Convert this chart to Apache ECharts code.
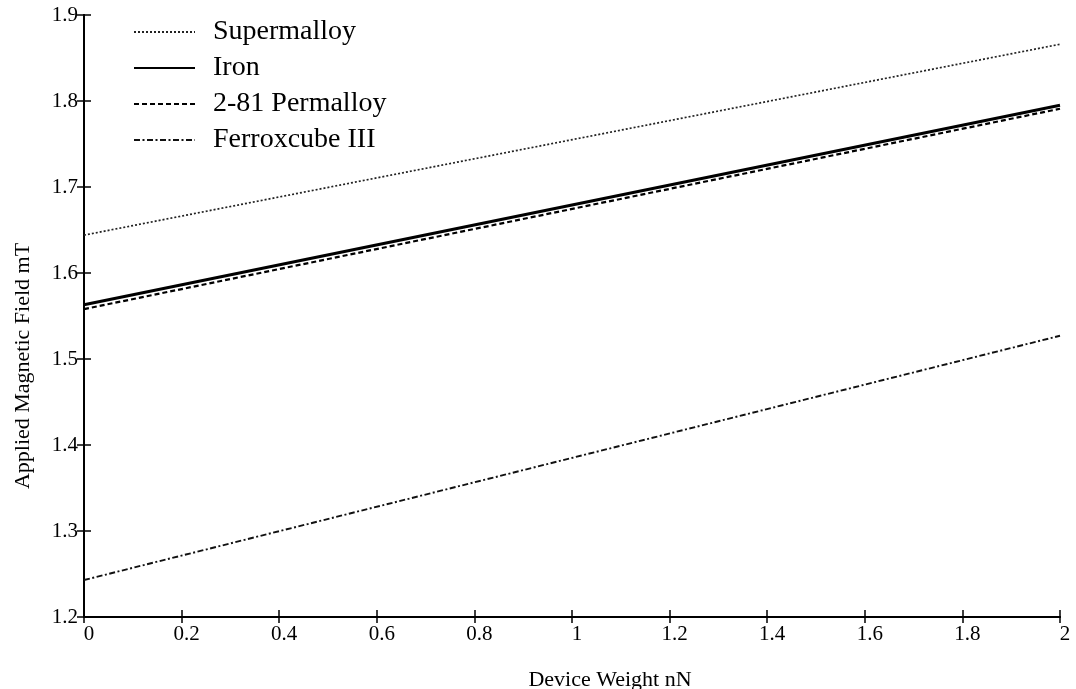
<!DOCTYPE html>
<html>
<head>
<meta charset="utf-8">
<script src="https://cdn.jsdelivr.net/npm/echarts@6/dist/echarts.min.js"></script>
<style>html,body{margin:0;padding:0;background:#fff}#c{width:1076px;height:689px}</style>
</head>
<body>
<div id="c"></div>
<script>
var weights = [0, 2];
var seriesNames = ['Supermalloy', 'Iron', '2-81 Permalloy', 'Ferroxcube III'];
var supermalloy = [1.644, 1.866];
var iron = [1.563, 1.795];
var permalloy = [1.558, 1.791];
var ferroxcube = [1.243, 1.527];
var xTitle = 'Device Weight nN';
var yTitle = 'Applied Magnetic Field mT';

var FONT = '"Liberation Serif", "Times New Roman", serif';
var chart = echarts.init(document.getElementById('c'), null, {renderer: 'canvas'});

function pts(vals) { return weights.map(function (w, i) { return [w, vals[i]]; }); }

var styles = [
  {width: 1.7, type: [2, 2], color: '#222'},
  {width: 3, type: 'solid', color: '#000'},
  {width: 2.2, type: [5, 3], color: '#000'},
  {width: 1.9, type: [6, 2.5, 2, 2.5], color: '#111'}
];
var allVals = [supermalloy, iron, permalloy, ferroxcube];

var series = seriesNames.map(function (n, i) {
  return {
    name: n, type: 'line', data: pts(allVals[i]), symbol: 'none',
    xAxisIndex: 0, yAxisIndex: 0,
    lineStyle: styles[i], itemStyle: {color: styles[i].color},
    emphasis: {disabled: true}, animation: false
  };
});

var axisCommon = {
  axisLine: {show: true, lineStyle: {color: '#000', width: 2}},
  splitLine: {show: false}
};

chart.setOption({
  backgroundColor: '#fff',
  animation: false,
  grid: {left: 84, right: 16, top: 15, bottom: 72, containLabel: false, outerBoundsMode: 'none'},
  legend: {
    show: true, orient: 'vertical', left: 128, top: 13,
    itemWidth: 61, itemHeight: 14, itemGap: 8,
    itemStyle: {opacity: 0},
    textStyle: {fontFamily: FONT, fontSize: 28, lineHeight: 25, color: '#000', padding: [0, 0, 0, 13]},
    data: seriesNames
  },
  xAxis: [
    Object.assign({
      type: 'value', min: 0, max: 2, interval: 0.2,
      name: xTitle, nameLocation: 'middle', nameGap: 52,
      nameTextStyle: {fontFamily: FONT, fontSize: 22, color: '#000', padding: [0, 0, 0, 76]},
      axisTick: {show: true, inside: false, length: 6, lineStyle: {color: '#000', width: 1.5}},
      axisLabel: {fontFamily: FONT, fontSize: 21, color: '#000', margin: 7, padding: [0, 0, 0, 10]}
    }, axisCommon),
    Object.assign({
      type: 'value', min: 0, max: 2, interval: 0.2, position: 'bottom',
      axisTick: {show: true, inside: true, length: 7, lineStyle: {color: '#000', width: 1.5}},
      axisLabel: {show: false}
    }, axisCommon)
  ],
  yAxis: [
    Object.assign({
      type: 'value', min: 1.2, max: 1.9, interval: 0.1,
      name: yTitle, nameLocation: 'middle', nameGap: 50, nameRotate: 90,
      nameTextStyle: {fontFamily: FONT, fontSize: 22, color: '#000', padding: [0, 100, 0, 0]},
      axisTick: {show: true, inside: false, length: 7, lineStyle: {color: '#000', width: 1.5}},
      axisLabel: {fontFamily: FONT, fontSize: 21, color: '#000', margin: 6,
        formatter: function (v) { return v.toFixed(1); }}
    }, axisCommon),
    Object.assign({
      type: 'value', min: 1.2, max: 1.9, interval: 0.1, position: 'left',
      axisTick: {show: true, inside: true, length: 7, lineStyle: {color: '#000', width: 1.5}},
      axisLabel: {show: false}
    }, axisCommon)
  ],
  series: series
});
</script>
</body>
</html>
